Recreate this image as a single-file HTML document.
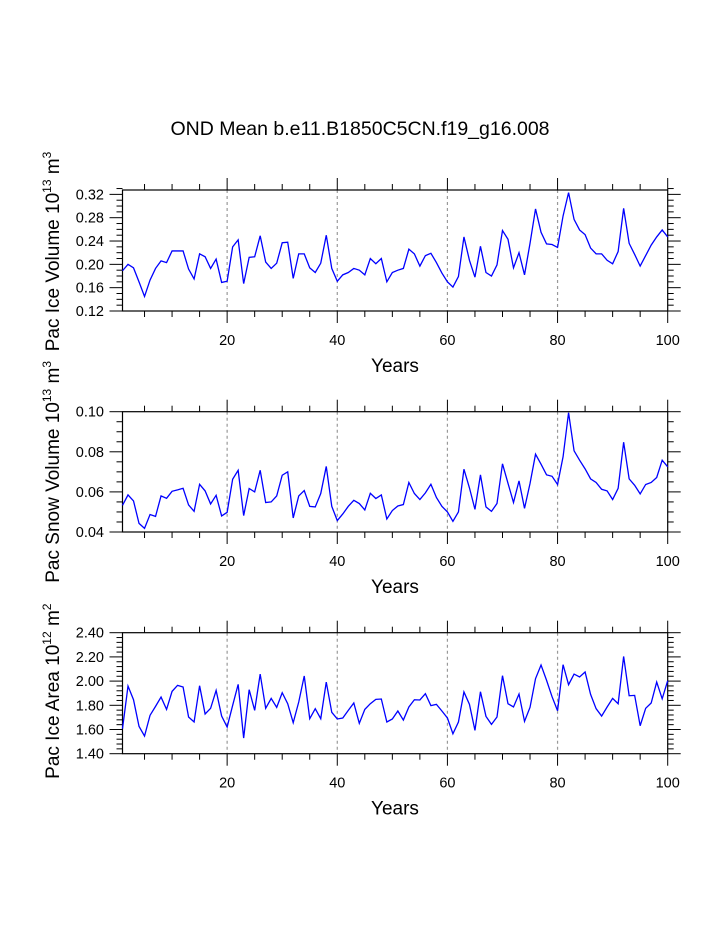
<!DOCTYPE html>
<html><head><meta charset="utf-8"><style>
html,body{margin:0;padding:0;background:#fff;}
svg{display:block;font-family:"Liberation Sans",Arial,sans-serif;}
</style></head><body>
<svg id="chart" width="723" height="935" viewBox="0 0 723 935" xmlns="http://www.w3.org/2000/svg">
<text x="360" y="135" font-size="19.5" text-anchor="middle">OND Mean b.e11.B1850C5CN.f19_g16.008</text>
</svg>
<script>
const years = Array.from({length:100},(_,i)=>i+1);
const iceVolume = [0.189,0.200,0.194,0.170,0.145,0.173,0.193,0.206,0.203,0.223,0.223,0.223,0.192,0.175,0.218,0.213,0.193,0.209,0.169,0.171,
0.230,0.242,0.167,0.212,0.213,0.249,0.204,0.193,0.202,0.237,0.238,0.176,0.218,0.218,0.194,0.186,0.202,0.250,0.193,0.171,
0.182,0.186,0.193,0.190,0.182,0.210,0.201,0.210,0.170,0.186,0.190,0.193,0.226,0.218,0.197,0.215,0.219,0.203,0.185,0.170,
0.161,0.179,0.247,0.207,0.178,0.231,0.186,0.180,0.199,0.258,0.243,0.194,0.220,0.182,0.236,0.295,0.255,0.235,0.234,0.229,
0.283,0.323,0.277,0.259,0.251,0.228,0.218,0.218,0.207,0.201,0.222,0.296,0.236,0.217,0.197,0.215,0.233,0.247,0.259,0.247];
const snowVolume = [0.0533,0.0585,0.0555,0.0443,0.0418,0.0487,0.0478,0.058,0.0568,0.0603,0.061,0.0618,0.0535,0.0503,0.0638,0.0605,0.054,0.0583,0.048,0.0498,
0.0663,0.0708,0.0482,0.0617,0.060,0.0708,0.0547,0.055,0.058,0.0683,0.070,0.047,0.058,0.0607,0.0528,0.0525,0.0592,0.0727,0.0528,0.0457,
0.049,0.0528,0.0558,0.0542,0.051,0.0593,0.0567,0.0585,0.0465,0.0507,0.053,0.0537,0.0647,0.0592,0.0562,0.0595,0.0638,0.0572,0.0528,0.050,
0.0453,0.050,0.0713,0.062,0.0513,0.0685,0.0525,0.0503,0.0542,0.074,0.0643,0.0547,0.0655,0.0518,0.0642,0.0788,0.0738,0.0685,0.0678,0.0637,
0.0775,0.0995,0.0805,0.0758,0.0715,0.0665,0.0647,0.0613,0.0605,0.0562,0.0618,0.0848,0.0665,0.0633,0.059,0.0637,0.0647,0.0672,0.0758,0.0725];
const iceArea = [1.607,1.959,1.846,1.626,1.546,1.717,1.791,1.868,1.766,1.915,1.965,1.951,1.703,1.662,1.962,1.728,1.775,1.923,1.711,1.620,
1.799,1.973,1.529,1.929,1.758,2.058,1.775,1.857,1.783,1.904,1.813,1.656,1.827,2.042,1.689,1.772,1.689,1.992,1.742,1.687,
1.695,1.758,1.819,1.651,1.766,1.813,1.849,1.852,1.662,1.687,1.753,1.678,1.786,1.846,1.844,1.896,1.797,1.808,1.753,1.695,
1.565,1.662,1.910,1.808,1.593,1.912,1.709,1.642,1.703,2.045,1.813,1.786,1.893,1.667,1.783,2.020,2.133,2.007,1.871,1.755,
2.136,1.970,2.058,2.034,2.075,1.890,1.772,1.711,1.786,1.857,1.813,2.204,1.879,1.882,1.631,1.775,1.819,1.992,1.854,2.003];
const xTickLabels = [20,40,60,80,100];
const iceVolTicks = ["0.12","0.16","0.20","0.24","0.28","0.32"];
const snowTicks = ["0.04","0.06","0.08","0.10"];
const areaTicks = ["1.40","1.60","1.80","2.00","2.20","2.40"];

const NS="http://www.w3.org/2000/svg";
const svg=document.getElementById('chart');
function mk(tag,attrs,parent){const e=document.createElementNS(NS,tag);for(const k in attrs)e.setAttribute(k,attrs[k]);(parent||svg).appendChild(e);return e;}
const X0=122.5,X1=667.7;
function xs(y){return X0+(y-1)*(X1-X0)/99;}

function panel(name,top,bot,ymin,ymax,majorStep,minorStep,ticks,data,titleMain,sup,unit,tOff){
  const g=mk('g',{});
  
  
  const ys=v=>bot-(v-ymin)/(ymax-ymin)*(bot-top);
  xTickLabels.forEach(t=>{if(t<100){const l=mk('line',{x1:xs(t),x2:xs(t),y1:top,y2:bot,stroke:'#999','stroke-width':1.2,'stroke-dasharray':'3,3'},g);
    
    }});
  for(let t=5;t<=100;t+=5){const major=t%20===0;const len=major?12:6;
    mk('line',{x1:xs(t),x2:xs(t),y1:top,y2:top-len,stroke:'#000','stroke-width':1},g);
    mk('line',{x1:xs(t),x2:xs(t),y1:bot,y2:bot+len,stroke:'#000','stroke-width':1},g);}
  const nMin=Math.round((ymax-ymin)/minorStep);
  for(let i=0;i<=nMin;i++){const v=ymin+i*minorStep;const major=Math.abs(((v-ymin)/majorStep)-Math.round((v-ymin)/majorStep))<1e-6;const len=major?13:6;const y=ys(v);
    mk('line',{x1:X0,x2:X0-len,y1:y,y2:y,stroke:'#000','stroke-width':1},g);
    mk('line',{x1:X1,x2:X1+len,y1:y,y2:y,stroke:'#000','stroke-width':1},g);}
  ticks.forEach((t,i)=>{const tx=mk('text',{x:104,y:ys(ymin+i*majorStep)+5,'font-size':14.5,'text-anchor':'end'},g);tx.textContent=t;
    
    });
  xTickLabels.forEach(t=>{const tx=mk('text',{x:xs(t),y:bot+34,'font-size':14.5,'text-anchor':'middle'},g);tx.textContent=t;
    
    });
  const xt=mk('text',{x:395,y:bot+61,'font-size':19,'text-anchor':'middle'},g);xt.textContent='Years';
  
  
  mk('rect',{x:X0,y:top,width:X1-X0,height:bot-top,fill:'none',stroke:'#000','stroke-width':1.2},g);
  const pts=data.map((v,i)=>xs(years[i]).toFixed(2)+','+ys(v).toFixed(2)).join(' ');
  const pl=mk('polyline',{points:pts,fill:'none',stroke:'#0000ff','stroke-width':1.3},g);
  
  
  const cy=(top+bot)/2;
  const yt=mk('text',{x:0,y:0,'font-size':19,'text-anchor':'middle',transform:`translate(59,${cy+tOff}) rotate(-90)`},g);
  
  
  yt.appendChild(document.createTextNode(titleMain+' 10'));
  const s=mk('tspan',{'font-size':12,dy:-8},yt);s.textContent=sup;
  const u=mk('tspan',{dy:8},yt);u.textContent=' m';
  const s2=mk('tspan',{'font-size':12,dy:-8},yt);s2.textContent=unit;
}
panel('ice-volume',190,311,0.12,0.3275,0.04,0.01,iceVolTicks,iceVolume,'Pac Ice Volume','13','3',1);
panel('snow-volume',411.7,532,0.04,0.10,0.02,0.005,snowTicks,snowVolume,'Pac Snow Volume','13','3',0);
panel('ice-area',632.7,753.7,1.40,2.40,0.2,0.04,areaTicks,iceArea,'Pac Ice Area','12','2',-2);
</script>
</body></html>
